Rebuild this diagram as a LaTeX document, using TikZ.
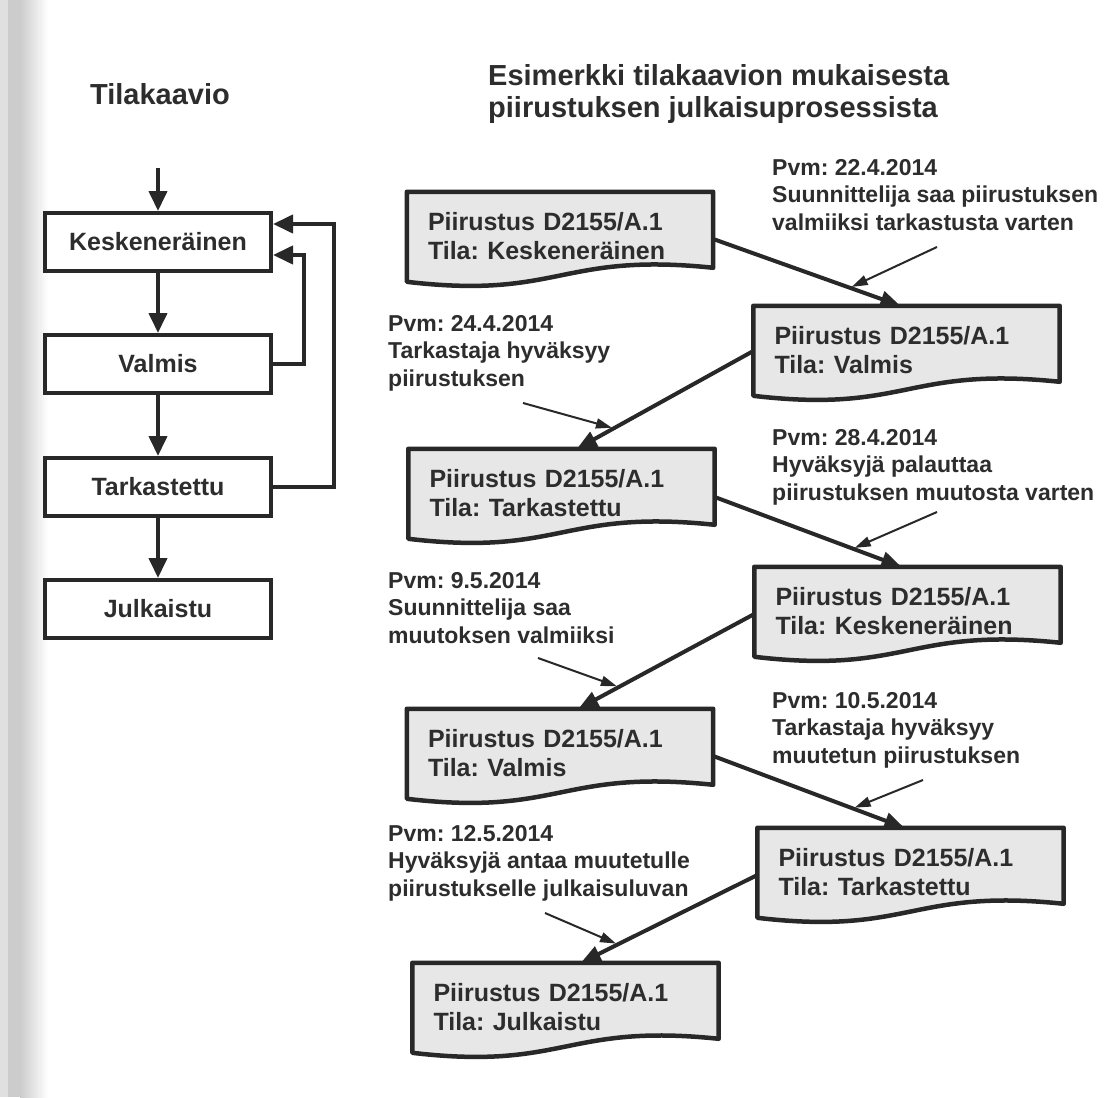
\documentclass[tikz,border=0pt]{standalone}
\usepackage{fontspec}
\setmainfont{Liberation Sans}
\usetikzlibrary{arrows.meta,calc}
\pgfdeclarelayer{back}
\pgfsetlayers{back,main}
\definecolor{ink}{RGB}{40,40,40}
\definecolor{txt}{RGB}{45,45,45}
\definecolor{docfill}{RGB}{231,231,231}
\definecolor{strip}{RGB}{204,204,204}
\definecolor{stripedge}{RGB}{224,224,224}

% outline of a document symbol: straight top and sides, wavy bottom edge
\newcommand\docoutline[1]{%
  \path[docline] (#1.north west) -- (#1.north east) -- ($(#1.north east)+(0,76)$)
    .. controls ($(#1.north)+(0,60)$) and ($(#1.north)+(0,108)$) ..
    ($(#1.north west)+(0,90)$) -- cycle;}

\begin{document}
\frenchspacing
\begin{tikzpicture}[x=1pt,y=-1pt,
  state/.style={draw=ink, line width=4pt, fill=white, minimum width=226pt,
    minimum height=58pt, inner sep=0pt,
    font=\bfseries\fontsize{25}{29}\selectfont, text=txt},
  flow/.style={draw=ink, line width=4pt, -{Triangle[length=20pt,width=18pt]}},
  docbox/.style={inner xsep=21pt, inner ysep=0pt, text width=264pt,
    minimum height=88pt, align=left,
    font=\bfseries\fontsize{25}{29}\selectfont, text=txt},
  docline/.style={draw=ink, line width=4.5pt, fill=docfill, line join=round},
  link/.style={draw=ink, line width=4pt, -{Triangle[length=20pt,width=16pt]}},
  note/.style={anchor=north west, inner sep=0pt, align=left,
    font=\bfseries\fontsize{23}{27.5}\selectfont, text=txt},
  pointer/.style={draw=ink, line width=2pt, shorten >=2pt,
    -{Triangle[length=16pt,width=10pt]}},
  heading/.style={inner sep=0pt, font=\bfseries\fontsize{29}{32}\selectfont, text=txt}
]
\useasboundingbox (0,0) rectangle (1113,1097);

% ---------------- state diagram ----------------
\node[heading] (title1) at (160,94) {Tilakaavio};

\node[state] (k) at (158,242) {Keskeneräinen};
\node[state] (v) at (158,364) {Valmis};
\node[state] (t) at (158,487) {Tarkastettu};
\node[state] (j) at (158,609) {Julkaistu};

\coordinate (entry) at (158,168);
\draw[flow] (entry) -- (k);
\draw[flow] (k) -- (v);
\draw[flow] (v) -- (t);
\draw[flow] (t) -- (j);
\draw[flow] (v.east) -- ++(31,0) |- ($(k.east)+(0,13)$);
\draw[flow] (t.east) -- ++(61,0) |- ($(k.east)+(0,-18)$);

% ---------------- example process ----------------
\node[heading, anchor=north west, align=left] (title2) at (488,64)
  {Esimerkki tilakaavion mukaisesta\\piirustuksen julkaisuprosessista};

\node[docbox] (a1) at (560,236)   {Piirustus D2155/A.1\\Tila: Keskeneräinen};
\node[docbox] (b1) at (906.5,350) {Piirustus D2155/A.1\\Tila: Valmis};
\node[docbox] (a2) at (561.5,493) {Piirustus D2155/A.1\\Tila: Tarkastettu};
\node[docbox] (b2) at (907.5,611) {Piirustus D2155/A.1\\Tila: Keskeneräinen};
\node[docbox] (a3) at (560,753)   {Piirustus D2155/A.1\\Tila: Valmis};
\node[docbox] (b3) at (910.5,872) {Piirustus D2155/A.1\\Tila: Tarkastettu};
\node[docbox] (a4) at (565.5,1007){Piirustus D2155/A.1\\Tila: Julkaistu};

\begin{pgfonlayer}{back}
  \fill[white] (0,0) rectangle (1113,1097);
  \fill[stripedge] (0,0) rectangle (8,1097);
  \fill[strip] (8,0) rectangle (20,1097);
  \shade[left color=strip, right color=white] (20,0) rectangle (48,1097);
  \foreach \d in {a1,b1,a2,b2,a3,b3,a4} {\docoutline{\d}}
\end{pgfonlayer}

% transitions between drawing states
\draw[link] ($(a1.east)+(0,3)$) -- coordinate[pos=0.73] (m1)
  ($(b1.north west)!0.48!(b1.north east)$);
\draw[link] ($(b1.west)+(0,1)$) -- coordinate[pos=0.79] (m2)
  ($(a2.north west)!0.55!(a2.north east)$);
\draw[link] ($(a2.east)+(0,4)$) -- coordinate[pos=0.74] (m3)
  ($(b2.north west)!0.48!(b2.north east)$);
\draw[link] ($(b2.west)+(0,3)$) -- coordinate[pos=0.77] (m4)
  ($(a3.north west)!0.56!(a3.north east)$);
\draw[link] ($(a3.east)+(0,3)$) -- coordinate[pos=0.73] (m5)
  ($(b3.north west)!0.48!(b3.north east)$);
\draw[link] ($(b3.west)+(0,3)$) -- coordinate[pos=0.79] (m6)
  ($(a4.north west)!0.55!(a4.north east)$);

% event notes
\node[note] (n1) at (772,159) {Pvm: 22.4.2014\\Suunnittelija saa piirustuksen\\valmiiksi tarkastusta varten};
\node[note] (n2) at (388,315) {Pvm: 24.4.2014\\Tarkastaja hyväksyy\\piirustuksen};
\node[note] (n3) at (772,429) {Pvm: 28.4.2014\\Hyväksyjä palauttaa\\piirustuksen muutosta varten};
\node[note] (n4) at (388,572) {Pvm: 9.5.2014\\Suunnittelija saa\\muutoksen valmiiksi};
\node[note] (n5) at (772,692) {Pvm: 10.5.2014\\Tarkastaja hyväksyy\\muutetun piirustuksen};
\node[note] (n6) at (388,825) {Pvm: 12.5.2014\\Hyväksyjä antaa muutetulle\\piirustukselle julkaisuluvan};

\coordinate (p1) at (937,247);
\coordinate (p2) at (523,403);
\coordinate (p3) at (937,512);
\coordinate (p4) at (538,658);
\coordinate (p5) at (923,780);
\coordinate (p6) at (545,913);
\draw[pointer] (p1) -- (m1);
\draw[pointer] (p2) -- (m2);
\draw[pointer] (p3) -- (m3);
\draw[pointer] (p4) -- (m4);
\draw[pointer] (p5) -- (m5);
\draw[pointer] (p6) -- (m6);
\end{tikzpicture}
\end{document}
